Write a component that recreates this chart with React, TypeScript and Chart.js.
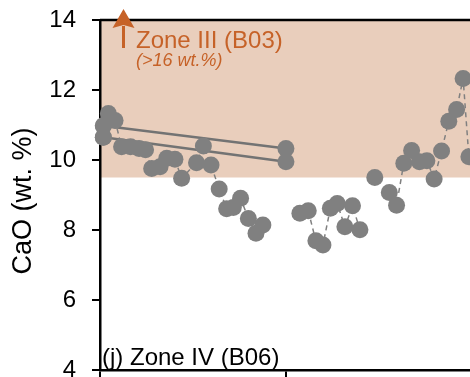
import React, { useEffect, useRef } from "react";
import { Chart, registerables } from "chart.js";

Chart.register(...registerables);

// ---- data ----
const positions: number[] = [
  0.18, 0.18, 0.45, 0.81, 1.16, 1.64, 2.1, 2.45, 2.78, 3.23, 3.59, 4.03, 4.39, 5.19, 5.56, 5.97,
  6.41, 6.81, 7.17, 7.56, 7.98, 8.39, 8.76, 9.5, 10.75, 11.2, 11.61, 11.99, 12.39, 12.76, 13.17,
  13.58, 13.98, 14.4, 14.78, 15.2, 15.56, 15.95, 16.34, 16.76, 17.18, 17.58, 17.97, 18.37, 18.76,
  19.18, 19.53, 19.84,
];
const caoValues: (number | null)[] = [
  10.98, 10.65, 11.33, 11.13, 10.38, 10.38, 10.33, 10.29, 9.76, 9.81, 10.05, 10.02, 9.48, 9.92,
  10.4, 9.86, 9.17, 8.61, 8.64, 8.91, 8.33, 7.91, 8.14, null, 8.48, 8.55, 7.69, 7.57, 8.62, 8.76,
  8.09, 8.69, 8.01, null, 9.5, null, 9.07, 8.71, 9.91, 10.27, 9.95, 9.98, 9.46, 10.26, 11.11,
  11.44, 12.33, 10.09,
];
const tiePositions: number[] = [0.18, 10];
const tieUpper: number[] = [10.98, 10.33];
const tieLower: number[] = [10.65, 9.95];

const yTicks: number[] = [4, 6, 8, 10, 12, 14];
const xTicks: number[] = [0, 10];
const zoneMin = 9.5;
const zoneMax = 14;

const yTitle = "CaO (wt. %)";
const panelLabel = "(j) Zone IV (B06)";
const zoneLabel = "Zone III (B03)";
const zoneSubLabel = "(>16 wt.%)";

const FONT = "Arial, 'Liberation Sans', sans-serif";
const GREY = "rgb(128,128,128)";
const TIE_GREY = "rgb(115,115,115)";
const ZONE_FILL = "rgb(233,206,188)";
const ORANGE = "rgb(198,98,40)";

const decorPlugin = {
  id: "decor",
  beforeDraw(chart: any) {
    const { ctx, chartArea: a, scales } = chart;
    const y = scales.y;
    const top = y.getPixelForValue(zoneMax);
    const bottom = y.getPixelForValue(zoneMin);
    ctx.save();
    ctx.fillStyle = ZONE_FILL;
    ctx.fillRect(a.left, top, a.right - a.left, bottom - top);
    ctx.restore();
  },
  afterDraw(chart: any) {
    const { ctx, chartArea: a } = chart;
    ctx.save();
    // top frame
    ctx.strokeStyle = "#000";
    ctx.lineWidth = 2.5;
    ctx.beginPath();
    ctx.moveTo(a.left, a.top);
    ctx.lineTo(a.right, a.top);
    ctx.stroke();

    // arrow
    const ax = a.left + 23.5;
    ctx.strokeStyle = ORANGE;
    ctx.fillStyle = ORANGE;
    ctx.lineWidth = 3;
    ctx.beginPath();
    ctx.moveTo(ax, a.top + 28);
    ctx.lineTo(ax, a.top + 6);
    ctx.stroke();
    ctx.beginPath();
    ctx.moveTo(ax, a.top - 11);
    ctx.lineTo(ax + 11, a.top + 8);
    ctx.lineTo(ax, a.top + 5);
    ctx.lineTo(ax - 11, a.top + 8);
    ctx.closePath();
    ctx.fill();

    // zone labels
    ctx.textAlign = "left";
    ctx.textBaseline = "alphabetic";
    ctx.font = `24px ${FONT}`;
    ctx.fillText(zoneLabel, a.left + 36, a.top + 28);
    ctx.font = `italic 18px ${FONT}`;
    ctx.fillText(zoneSubLabel, a.left + 36, a.top + 46);

    // panel label
    ctx.fillStyle = "#000";
    ctx.font = `24px ${FONT}`;
    ctx.fillText(panelLabel, a.left + 2, a.bottom - 5);

    // y title
    ctx.translate(23.5, (a.top + a.bottom) / 2 + 6);
    ctx.rotate(-Math.PI / 2);
    ctx.textAlign = "center";
    ctx.textBaseline = "middle";
    ctx.font = `27px ${FONT}`;
    ctx.fillText(yTitle, 0, 0);
    ctx.restore();
  },
};

export default function App() {
  const ref = useRef<HTMLCanvasElement | null>(null);

  useEffect(() => {
    document.body.style.margin = "0";
    if (!ref.current) return;
    const main = positions.map((x, i) => ({ x, y: caoValues[i] }));
    const upper = tiePositions.map((x, i) => ({ x, y: tieUpper[i] }));
    const lower = tiePositions.map((x, i) => ({ x, y: tieLower[i] }));

    const chart = new Chart(ref.current, {
      type: "scatter",
      data: {
        datasets: [
          {
            data: main as any,
            showLine: true,
            spanGaps: false,
            borderColor: GREY,
            borderWidth: 1.5,
            borderDash: [5, 4],
            backgroundColor: GREY,
            pointBackgroundColor: GREY,
            pointBorderWidth: 0,
            pointRadius: 8.5,
            clip: false as any,
          },
          {
            data: upper as any,
            showLine: true,
            borderColor: TIE_GREY,
            borderWidth: 2.5,
            pointBackgroundColor: GREY,
            pointBorderWidth: 0,
            pointRadius: 8.5,
            clip: false as any,
          },
          {
            data: lower as any,
            showLine: true,
            borderColor: TIE_GREY,
            borderWidth: 2.5,
            pointBackgroundColor: GREY,
            pointBorderWidth: 0,
            pointRadius: 8.5,
            clip: false as any,
          },
        ],
      },
      options: {
        animation: false,
        responsive: false,
        devicePixelRatio: 1,
        layout: { autoPadding: false, padding: { top: 20, left: 0, right: 0, bottom: 0 } },
        plugins: { legend: { display: false }, tooltip: { enabled: false } },
        scales: {
          x: {
            type: "linear",
            min: 0,
            max: 19.9,
            afterBuildTicks: (scale: any) => {
              scale.ticks = xTicks.map((v) => ({ value: v }));
            },
            ticks: { display: false },
            grid: {
              display: true,
              drawOnChartArea: false,
              drawTicks: true,
              tickLength: 12,
              color: "#000",
              lineWidth: 2,
            },
            border: { display: true, color: "#000", width: 2.5 },
            afterFit: (scale: any) => {
              scale.height = 7;
              scale.paddingLeft = 0;
              scale.paddingRight = 0;
            },
          },
          y: {
            type: "linear",
            min: 4,
            max: 14,
            afterBuildTicks: (scale: any) => {
              scale.ticks = yTicks.map((v) => ({ value: v }));
            },
            ticks: { font: { family: FONT, size: 24 }, color: "#000", padding: 16 },
            grid: {
              display: true,
              drawOnChartArea: false,
              drawTicks: true,
              tickLength: 8,
              color: "#000",
              lineWidth: 2,
            },
            border: { display: true, color: "#000", width: 2.5 },
            afterFit: (scale: any) => {
              scale.width = 100;
              scale.paddingTop = 0;
              scale.paddingBottom = 0;
            },
          },
        },
      },
      plugins: [decorPlugin],
    });
    return () => chart.destroy();
  }, []);

  return <canvas ref={ref} width={470} height={377} style={{ display: "block" }} />;
}
